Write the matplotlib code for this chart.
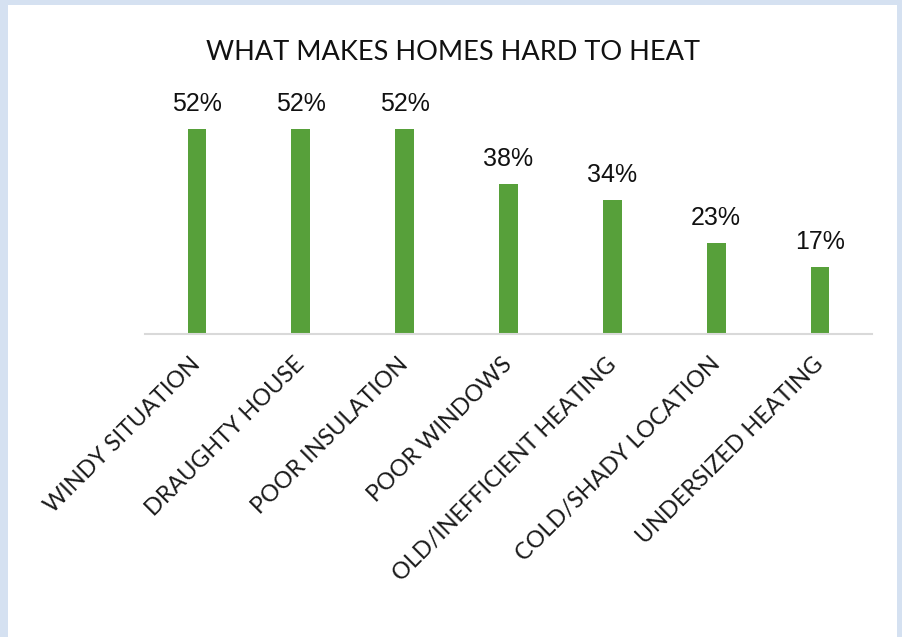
import matplotlib
matplotlib.use("Agg")
import matplotlib.pyplot as plt
from matplotlib.transforms import ScaledTranslation

categories = ["WINDY SITUATION", "DRAUGHTY HOUSE", "POOR INSULATION", "POOR WINDOWS",
              "OLD/INEFFICIENT HEATING", "COLD/SHADY LOCATION", "UNDERSIZED HEATING"]
values = [52, 52, 52, 38, 34, 23, 17]
value_labels = ["52%", "52%", "52%", "38%", "34%", "23%", "17%"]
title = "WHAT MAKES HOMES HARD TO HEAT"

W, H = 902, 637
fig = plt.figure(figsize=(W / 100, H / 100), dpi=100)
fig.patch.set_facecolor("#d5e1f1")
bg = fig.add_axes([8 / W, 0, 889 / W, 632 / H])
bg.set_facecolor("white")
bg.set_xticks([]); bg.set_yticks([])
for s in bg.spines.values():
    s.set_visible(False)
bg.set_zorder(0)

ax = fig.add_axes([145 / W, (H - 334) / H, 727 / W, 236.5 / H])
ax.set_zorder(2)
ax.set_facecolor("none")
x = list(range(len(categories)))
ax.bar(x, values, width=0.18, color="#57a03a", zorder=2)
ax.set_xlim(-0.5, len(categories) - 0.5)
ax.set_ylim(0, 60)
for xi, v, lab in zip(x, values, value_labels):
    ax.text(xi, v + 3.4, lab, ha="center", va="bottom", fontsize=18,
            family="Liberation Sans", color="#111111")

for s in ["top", "right", "left"]:
    ax.spines[s].set_visible(False)
ax.spines["bottom"].set_color("#d9d9d9")
ax.spines["bottom"].set_linewidth(1.5)
ax.set_yticks([])
ax.set_xticks(x)
ax.set_xticklabels(categories, rotation=45, ha="right", rotation_mode="anchor",
                   fontsize=16.8, family="Lato", color="#1a1a1a")
ax.tick_params(axis="x", length=0, pad=14)
shift = ScaledTranslation(-7 / 100, 0, fig.dpi_scale_trans)
for lbl in ax.get_xticklabels():
    lbl.set_transform(lbl.get_transform() + shift)

fig.text(453 / W, 1 - 53 / H, title, ha="center", va="center", fontsize=19.5,
         family="Lato", color="#111111")

fig.savefig("out.png", dpi=100)
